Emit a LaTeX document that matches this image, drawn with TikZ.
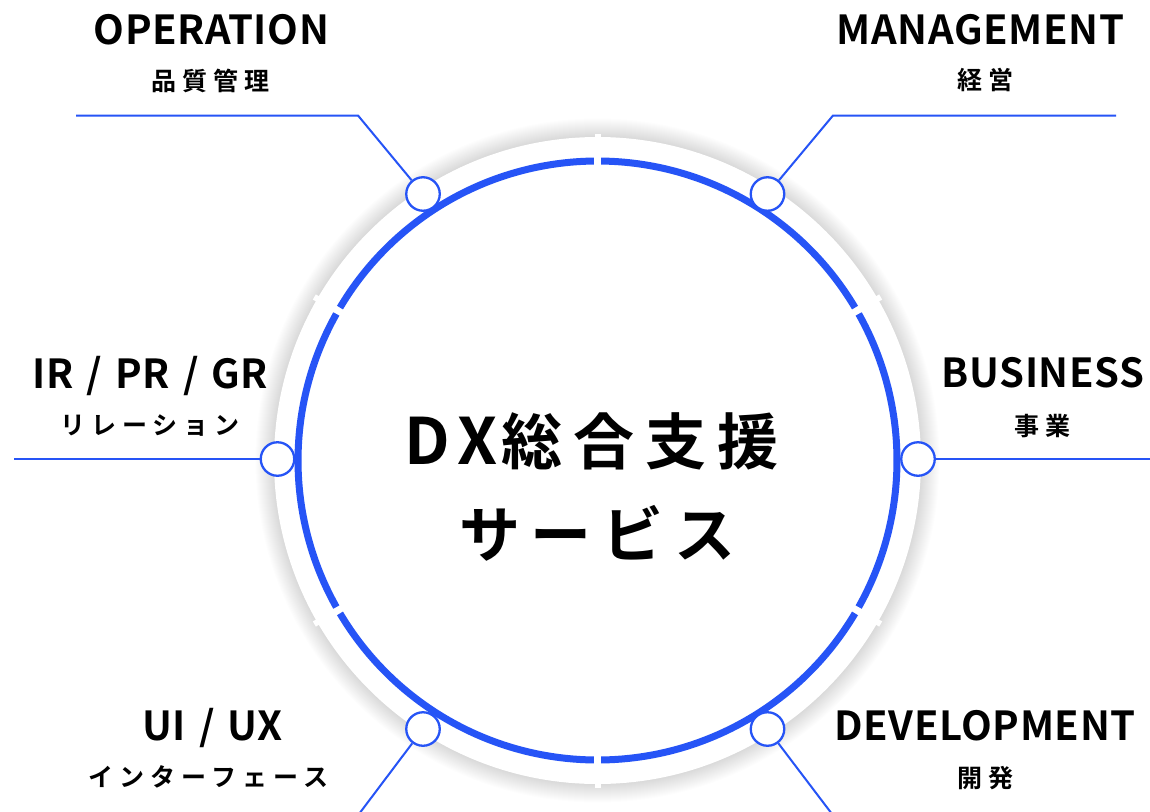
\documentclass[tikz,border=0pt]{standalone}
\usepackage{fontspec}
\newfontfamily\headfont{Noto Sans CJK JP Bold}[LetterSpace=1.5]
\newfontfamily\subfont{Noto Sans CJK JP Bold}[LetterSpace=24]
\newfontfamily\titlefont{Noto Sans CJK JP Bold}[LetterSpace=18]
\newfontfamily\titlelat{Noto Sans CJK JP Bold}
\definecolor{dxblue}{RGB}{38,84,246}
\newcommand{\slsep}{\hspace{13pt}/\hspace{13pt}}
\begin{document}
\begin{tikzpicture}[x=1pt,y=-1pt,
  lbl/.style={font=\headfont\fontsize{40}{40}\selectfont, inner sep=0, anchor=base},
  sublbl/.style={font=\subfont\fontsize{25}{25}\selectfont, inner sep=0, anchor=base},
  ttl/.style={font=\titlefont\fontsize{61}{61}\selectfont, inner sep=0, anchor=base},
  conn/.style={draw=dxblue, line width=2pt},
  dot/.style={circle, draw=dxblue, line width=2.3pt, fill=white, minimum size=33.5pt, inner sep=0},
  ring/.style={draw=dxblue, line width=7pt},
]
\useasboundingbox (0,0) rectangle (1150,811);
\fill[white] (0,0) rectangle (1150,811);
\coordinate (ctr) at (597.5,460.5);
% soft shadow
\foreach \r in {342,341,...,324} \fill[black, opacity=0.009] (ctr) circle[radius=\r];
\fill[white] (ctr) circle[radius=323.5];
\begin{scope}[shift={(ctr)}]
  \foreach \a in {30,90,...,330} \draw[white, line width=6pt] (\a:320) -- (\a:327);
  \foreach \a in {30,90,...,330} \draw[ring] (\a+0.7:299.5) arc[start angle=\a+0.7, end angle=\a+59.3, radius=299.5];
\end{scope}
% dots
\node[dot] (cop) at (423,194) {};
\node[dot] (cmg) at (767.5,194) {};
\node[dot] (cir) at (277.5,459) {};
\node[dot] (cbu) at (918,459) {};
\node[dot] (cux) at (423,729) {};
\node[dot] (cdv) at (767.5,729) {};
% connectors
\coordinate (op1) at (76,115.5);
\coordinate (op2) at (358,115.5);
\draw[conn] (op1) -- (op2) -- (cop);
\coordinate (mg1) at (1116,115.5);
\coordinate (mg2) at (833,115.5);
\draw[conn] (mg1) -- (mg2) -- (cmg);
\coordinate (ir1) at (14,459);
\draw[conn] (ir1) -- (cir);
\coordinate (bu1) at (1152,459);
\draw[conn] (cbu) -- (bu1);
\coordinate (ux1) at (359,814);
\draw[conn] (cux) -- (ux1);
\coordinate (dv1) at (832,814);
\draw[conn] (cdv) -- (dv1);
% labels
\node[lbl] (top) at (211.5,44) {OPERATION};
\node[sublbl] (tops) at (210,90) {品質管理};
\node[lbl] (tmg) at (980.5,44) {MANAGEMENT};
\node[sublbl] (tmgs) at (985.5,89) {経営};
\node[lbl] (tir) at (150.5,388) {IR\slsep PR\slsep GR};
\node[sublbl] (tirs) at (150,434) {リレーション};
\node[lbl] (tbu) at (1043,387) {BUSINESS};
\node[sublbl] (tbus) at (1042.5,435) {事業};
\node[lbl] (tux) at (212.5,740) {UI\slsep UX};
\node[sublbl] (tuxs) at (208.5,786) {インターフェース};
\node[lbl] (tdv) at (985,740) {DEVELOPMENT};
\node[sublbl] (tdvs) at (985.5,787) {開発};
% title
\node[ttl] (ttl1) at (591.5,464) {{\titlelat\fontsize{64}{64}\selectfont D\hspace{7pt}X}\hspace{4pt}総合支援};
\node[ttl] (ttl2) at (597.5,557) {サービス};
\end{tikzpicture}
\end{document}
